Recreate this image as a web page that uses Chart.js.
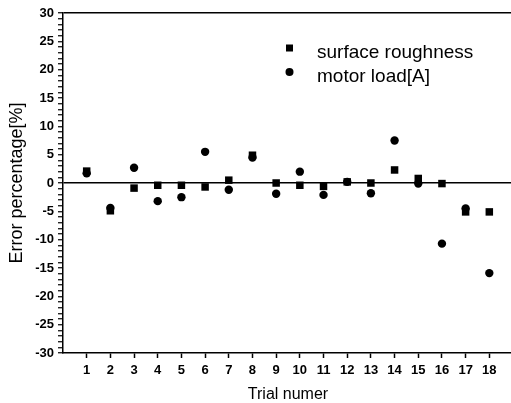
<!DOCTYPE html>
<html>
<head>
<meta charset="utf-8">
<script src="https://cdn.jsdelivr.net/npm/chart.js@4"></script>
<style>
  html, body { margin: 0; padding: 0; background: #fff; overflow: hidden; }
  canvas { display: block; }
</style>
</head>
<body>
<canvas id="errChart" width="520" height="403"></canvas>
<script>
const trials = [1, 2, 3, 4, 5, 6, 7, 8, 9, 10, 11, 12, 13, 14, 15, 16, 17, 18];
const roughness = [2.1, -4.9, -0.9, -0.4, -0.4, -0.7, 0.5, 4.9, 0.0, -0.4, -0.6, 0.2, 0.0, 2.3, 0.8, -0.1, -5.1, -5.1];
const motorLoad = [1.7, -4.4, 2.7, -3.2, -2.5, 5.5, -1.2, 4.5, -1.9, 2.0, -2.1, 0.2, -1.8, 7.5, -0.1, -10.7, -4.5, -15.9];
const seriesNames = ['surface roughness', 'motor load[A]'];

const FONT = "'Liberation Sans', Arial, sans-serif";

const ctx = document.getElementById('errChart').getContext('2d');

// legend drawn inside the plot like the original figure
const insideLegend = {
  id: 'insideLegend',
  afterDraw(chart) {
    const c = chart.ctx;
    c.save();
    c.fillStyle = '#000';
    c.font = '19px ' + FONT;
    c.textBaseline = 'alphabetic';
    chart.data.datasets.forEach((ds, i) => {
      const y = 48 + i * 24;
      if (ds.pointStyle === 'rect') {
        c.fillRect(286, y - 3.5, 7, 7);
      } else {
        c.beginPath();
        c.arc(289.5, y, 4, 0, Math.PI * 2);
        c.fill();
      }
      c.fillText(ds.label, 317, y + 10);
    });
    c.restore();
  },
};

new Chart(ctx, {
  type: 'scatter',
  data: {
    datasets: [
      {
        label: seriesNames[0],
        data: trials.map((t, i) => ({ x: t, y: roughness[i] })),
        pointStyle: 'rect',
        pointRadius: 5.3,
        backgroundColor: '#000',
        borderColor: '#000',
        borderWidth: 0,
      },
      {
        label: seriesNames[1],
        data: trials.map((t, i) => ({ x: t, y: motorLoad[i] })),
        pointStyle: 'circle',
        pointRadius: 4.2,
        backgroundColor: '#000',
        borderColor: '#000',
        borderWidth: 0,
      },
    ],
  },
  options: {
    responsive: false,
    animation: false,
    layout: { padding: { top: 13, right: 7, left: 0, bottom: 0 } },
    plugins: {
      legend: { display: false },
      tooltip: { enabled: false },
    },
    scales: {
      x: {
        type: 'linear',
        min: 0,
        max: 19,
        afterFit: (scale) => { scale.height = 50; },
        ticks: {
          stepSize: 1,
          autoSkip: false,
          maxRotation: 0,
          padding: 5,
          color: '#000',
          font: { family: FONT, size: 13, weight: 'bold' },
          callback: (v) => (v >= 1 && v <= 18 ? v : ''),
        },
        grid: {
          color: 'transparent',
          tickColor: (c) => (c.tick && (c.tick.value === 0 || c.tick.value === 19) ? 'transparent' : '#000'),
          tickLength: 5,
          tickWidth: 1.5,
        },
        border: { color: '#000', width: 1.5 },
        title: {
          display: true,
          text: 'Trial numer',
          color: '#000',
          padding: { top: 0, bottom: 0 },
          font: { family: FONT, size: 16, lineHeight: 1.1 },
        },
      },
      y: {
        min: -30,
        max: 30,
        afterFit: (scale) => { scale.width = 63; },
        ticks: {
          stepSize: 1,
          autoSkip: false,
          padding: 4,
          color: '#000',
          font: { family: FONT, size: 13, weight: 'bold' },
          callback: (v) => (v % 5 === 0 ? v : ''),
        },
        grid: {
          color: (c) => (c.tick && (c.tick.value === 0 || c.tick.value === 30) ? '#000' : 'transparent'),
          lineWidth: 1.5,
          tickColor: '#000',
          tickLength: 5,
          tickWidth: 1.2,
        },
        border: { color: '#000', width: 1.5 },
        title: {
          display: true,
          text: 'Error percentage[%]',
          color: '#000',
          padding: { top: 8, bottom: 0 },
          font: { family: FONT, size: 18, lineHeight: 1.0 },
        },
      },
    },
  },
  plugins: [insideLegend],
});
</script>
</body>
</html>
